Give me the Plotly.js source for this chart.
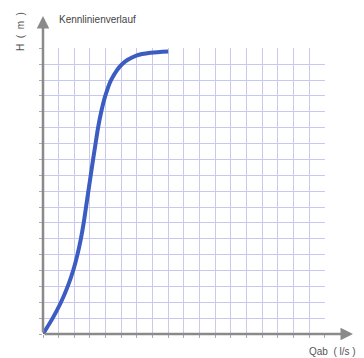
<!DOCTYPE html>
<html><head><meta charset="utf-8">
<script src="https://cdn.plot.ly/plotly-3.0.1.min.js"></script>
<style>html,body{margin:0;padding:0;background:#fff}#c{width:364px;height:358px}</style>
</head><body><div id="c"></div>
<script>
var flowQ = [0, 0.62, 1.15, 1.58, 1.93, 2.2, 2.42, 2.6, 2.75, 2.9, 3.05, 3.2, 3.36, 3.52, 3.72, 3.98, 4.35, 5.05, 6.0, 6.9, 8.0];
var headH = [0, 1, 2, 3, 4, 5, 6, 7, 8, 9, 10, 11, 12, 13, 14, 15, 16, 17, 17.55, 17.72, 17.8];
var chartTitle = "Kennlinienverlauf";
var xLabel = "Qab  ( l/s )";
var yLabel = "H  (  m  )";

var L = 43, R = 325, T = 48, B = 334, W = 364, H = 358;
function px(xp){return (xp - L)/(R - L);}
function py(yp){return (B - yp)/(B - T);}

var gridCol = '#c9c9f0';
var axisCommon = {
  range: [0, 18.02], dtick: 1, tick0: 0, showgrid: true, gridcolor: gridCol, gridwidth: 1,
  zeroline: false, showline: false, ticks: 'outside', ticklen: 3, tickcolor: '#aaa',
  showticklabels: false, fixedrange: true
};

var trace = {
  x: flowQ, y: headH, mode: 'lines', type: 'scatter',
  line: {color: '#3b5cc0', width: 4, shape: 'spline', smoothing: 0.8},
  hoverinfo: 'skip', cliponaxis: false
};

var layout = {
  width: W, height: H,
  margin: {l: L, r: W - R, t: T, b: H - B, pad: 0},
  paper_bgcolor: '#fff', plot_bgcolor: '#fff',
  showlegend: false,
  xaxis: Object.assign({}, axisCommon),
  yaxis: Object.assign({}, axisCommon),
  annotations: [
    {xref: 'paper', yref: 'paper', x: px(353), y: 0, ax: -(353 - L), ay: 0, axref: 'pixel', ayref: 'pixel',
     showarrow: true, arrowhead: 2, arrowsize: 1, arrowwidth: 2.5, arrowcolor: '#8a8a8a', text: ''},
    {xref: 'paper', yref: 'paper', x: 0, y: py(16), ax: 0, ay: (B - 16), axref: 'pixel', ayref: 'pixel',
     showarrow: true, arrowhead: 2, arrowsize: 1, arrowwidth: 2.5, arrowcolor: '#8a8a8a', text: ''},
    {xref: 'paper', yref: 'paper', x: px(57), y: py(20), xanchor: 'left', yanchor: 'middle',
     showarrow: false, text: chartTitle, font: {family: 'Liberation Sans, Arial', size: 10, color: '#444'}},
    {xref: 'paper', yref: 'paper', x: px(358), y: py(351), xanchor: 'right', yanchor: 'middle',
     showarrow: false, text: xLabel, font: {family: 'Liberation Sans, Arial', size: 10, color: '#555'}},
    {xref: 'paper', yref: 'paper', x: px(21), y: py(32), xanchor: 'center', yanchor: 'middle', textangle: -90,
     showarrow: false, text: yLabel, font: {family: 'Liberation Sans, Arial', size: 10, color: '#555'}}
  ]
};

Plotly.newPlot('c', [trace], layout, {displayModeBar: false, staticPlot: true});
</script></body></html>
